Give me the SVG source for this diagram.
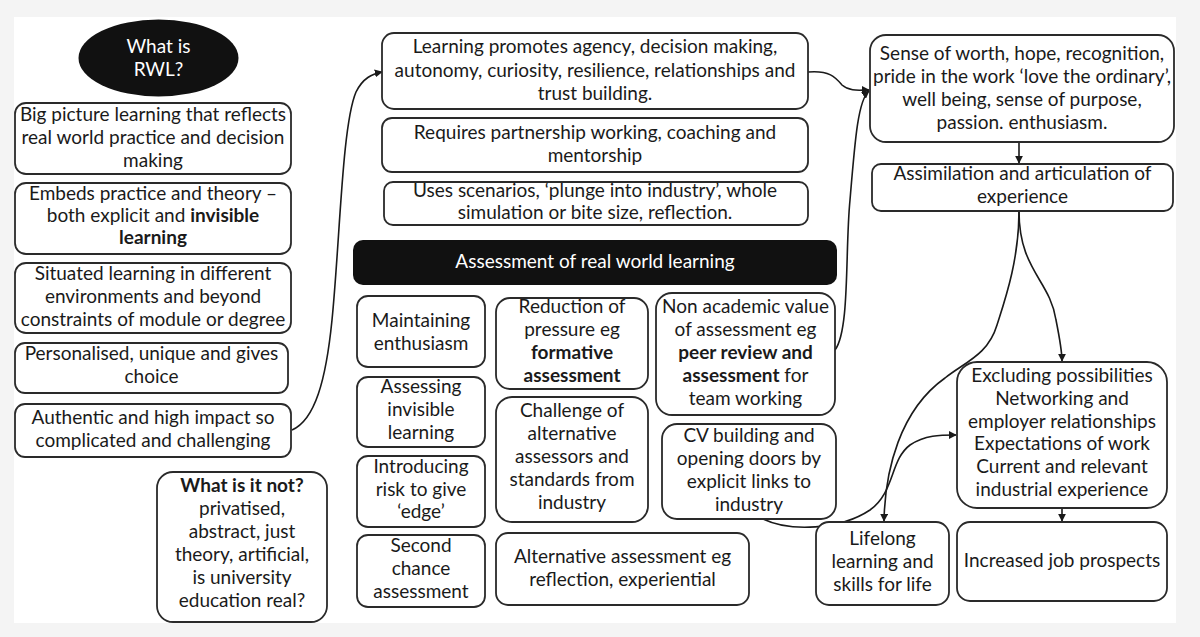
<svg xmlns="http://www.w3.org/2000/svg" width="1200" height="637" viewBox="0 0 1200 637">
<defs>
<style>
.bx{fill:#fff;stroke:#2a2a2a;stroke-width:1.8}
.t{font-family:Lato,"Open Sans","Liberation Sans",sans-serif;font-size:19px;fill:#1a1a1a;text-anchor:middle}
.w{fill:#fff}
.b{font-weight:bold}
.c{fill:none;stroke:#1a1a1a;stroke-width:1.6}
</style>
<marker id="ah" viewBox="0 0 10 10" refX="9" refY="5" markerWidth="8" markerHeight="8" markerUnits="userSpaceOnUse" orient="auto">
<path d="M0,0 L10,5 L0,10 z" fill="#1a1a1a"/>
</marker>
</defs>
<rect x="0" y="0" width="1200" height="637" fill="#f4f4f4"/>
<rect x="14" y="17" width="1162" height="606" fill="#fff"/>

<g id="connectors">
<path class="c" marker-end="url(#ah)" d="M292,430 C315,420 326,380 332,320 C340,240 342,125 356,92 C363,78 372,74 382,72"/>
<path class="c" marker-end="url(#ah)" d="M808,72 C830,70 836,78 842,85 C850,92 860,90 869,90"/>
<path class="c" marker-end="url(#ah)" d="M835,350 C850,330 845,250 850,200 C855,140 858,100 869,91"/>
<path class="c" marker-end="url(#ah)" d="M1019,142 L1019,163"/>
<path class="c" marker-end="url(#ah)" d="M1019,211 C1019,270 1050,280 1056,320 C1060,340 1062,350 1062,361"/>
<path class="c" marker-end="url(#ah)" d="M1019,211 C1019,260 1005,300 997,325 C988,355 965,362 945,378 C900,410 885,470 884,521"/>
<path class="c" marker-end="url(#ah)" d="M763,519 C790,532 840,530 870,510 C895,492 890,460 910,445 C925,435 940,435 956,435"/>
<path class="c" marker-end="url(#ah)" d="M1062,508 L1062,521"/>
</g>

<g id="n-rwl">
<ellipse cx="158.5" cy="58" rx="80" ry="38.5" fill="#111"/>
<text class="t w" x="158.5" y="53">What is</text>
<text class="t w" x="158.5" y="76">RWL?</text>
</g>
<g id="n-bigpicture">
<rect class="bx" x="15" y="103" width="276" height="71" rx="11"/>
<text class="t" x="153" y="121">Big picture learning that reflects</text>
<text class="t" x="153" y="144">real world practice and decision</text>
<text class="t" x="153" y="167">making</text>
</g>
<g id="n-embeds">
<rect class="bx" x="15" y="183" width="276" height="71" rx="11"/>
<text class="t" x="153" y="200">Embeds practice and theory –</text>
<text class="t" x="153" y="222">both explicit and <tspan class="b">invisible</tspan></text>
<text class="t b" x="153" y="244">learning</text>
</g>
<g id="n-situated">
<rect class="bx" x="15" y="263" width="276" height="70" rx="11"/>
<text class="t" x="153" y="280">Situated learning in different</text>
<text class="t" x="153" y="303">environments and beyond</text>
<text class="t" x="153" y="326">constraints of module or degree</text>
</g>
<g id="n-personalised">
<rect class="bx" x="15" y="343" width="273" height="50" rx="10"/>
<text class="t" x="151.5" y="360">Personalised, unique and gives</text>
<text class="t" x="151.5" y="383">choice</text>
</g>
<g id="n-authentic">
<rect class="bx" x="15" y="404" width="276" height="53" rx="10"/>
<text class="t" x="153" y="424">Authentic and high impact so</text>
<text class="t" x="153" y="447">complicated and challenging</text>
</g>
<g id="n-whatnot">
<rect class="bx" x="157" y="472" width="170" height="150" rx="16"/>
<text class="t b" x="242" y="492">What is it not?</text>
<text class="t" x="242" y="515">privatised,</text>
<text class="t" x="242" y="538">abstract, just</text>
<text class="t" x="242" y="561">theory, artificial,</text>
<text class="t" x="242" y="584">is university</text>
<text class="t" x="242" y="607">education real?</text>
</g>

<g id="n-promotes">
<rect class="bx" x="382" y="33" width="426" height="76" rx="12"/>
<text class="t" x="595" y="53">Learning promotes agency, decision making,</text>
<text class="t" x="595" y="77">autonomy, curiosity, resilience, relationships and</text>
<text class="t" x="595" y="100">trust building.</text>
</g>
<g id="n-requires">
<rect class="bx" x="382" y="118" width="426" height="54" rx="10"/>
<text class="t" x="595" y="139">Requires partnership working, coaching and</text>
<text class="t" x="595" y="162">mentorship</text>
</g>
<g id="n-uses">
<rect class="bx" x="384" y="182" width="424" height="43" rx="9"/>
<text class="t" x="595" y="197">Uses scenarios, ‘plunge into industry’, whole</text>
<text class="t" x="595" y="219">simulation or bite size, reflection.</text>
</g>

<g id="n-assessment">
<rect x="353" y="240" width="484" height="45" rx="10" fill="#111"/>
<text class="t w" x="595" y="268">Assessment of real world learning</text>
</g>
<g id="n-maintaining">
<rect class="bx" x="357" y="296" width="128" height="71" rx="11"/>
<text class="t" x="421" y="327">Maintaining</text>
<text class="t" x="421" y="350">enthusiasm</text>
</g>
<g id="n-assessing">
<rect class="bx" x="357" y="377" width="128" height="70" rx="11"/>
<text class="t" x="421" y="393">Assessing</text>
<text class="t" x="421" y="416">invisible</text>
<text class="t" x="421" y="439">learning</text>
</g>
<g id="n-introducing">
<rect class="bx" x="357" y="456" width="128" height="71" rx="11"/>
<text class="t" x="421" y="473">Introducing</text>
<text class="t" x="421" y="496">risk to give</text>
<text class="t" x="421" y="518">‘edge’</text>
</g>
<g id="n-second">
<rect class="bx" x="357" y="535" width="128" height="72" rx="11"/>
<text class="t" x="421" y="552">Second</text>
<text class="t" x="421" y="575">chance</text>
<text class="t" x="421" y="598">assessment</text>
</g>
<g id="n-reduction">
<rect class="bx" x="496" y="298" width="152" height="91" rx="14"/>
<text class="t" x="572" y="313">Reduction of</text>
<text class="t" x="572" y="336">pressure eg</text>
<text class="t b" x="572" y="359">formative</text>
<text class="t b" x="572" y="382">assessment</text>
</g>
<g id="n-challenge">
<rect class="bx" x="496" y="397" width="152" height="125" rx="16"/>
<text class="t" x="572" y="417">Challenge of</text>
<text class="t" x="572" y="440">alternative</text>
<text class="t" x="572" y="463">assessors and</text>
<text class="t" x="572" y="486">standards from</text>
<text class="t" x="572" y="509">industry</text>
</g>
<g id="n-alternative">
<rect class="bx" x="496" y="533" width="253" height="72" rx="12"/>
<text class="t" x="622.5" y="563">Alternative assessment eg</text>
<text class="t" x="622.5" y="586">reflection, experiential</text>
</g>
<g id="n-nonacademic">
<rect class="bx" x="656" y="293" width="179" height="122" rx="16"/>
<text class="t" x="745.5" y="313">Non academic value</text>
<text class="t" x="745.5" y="336">of assessment eg</text>
<text class="t b" x="745.5" y="359">peer review and</text>
<text class="t" x="745.5" y="382"><tspan class="b">assessment</tspan> for</text>
<text class="t" x="745.5" y="405">team working</text>
</g>
<g id="n-cv">
<rect class="bx" x="662" y="424" width="174" height="95" rx="15"/>
<text class="t" x="749" y="442">CV building and</text>
<text class="t" x="749" y="465">opening doors by</text>
<text class="t" x="749" y="488">explicit links to</text>
<text class="t" x="749" y="511">industry</text>
</g>

<g id="n-sense">
<rect class="bx" x="870" y="35" width="304" height="107" rx="16"/>
<text class="t" x="1022" y="60">Sense of worth, hope, recognition,</text>
<text class="t" x="1022" y="83">pride in the work ‘love the ordinary’,</text>
<text class="t" x="1022" y="106">well being, sense of purpose,</text>
<text class="t" x="1022" y="129">passion. enthusiasm.</text>
</g>
<g id="n-assimilation">
<rect class="bx" x="872" y="164" width="301" height="47" rx="9"/>
<text class="t" x="1022.5" y="180">Assimilation and articulation of</text>
<text class="t" x="1022.5" y="203">experience</text>
</g>
<g id="n-excluding">
<rect class="bx" x="957" y="362" width="210" height="146" rx="20"/>
<text class="t" x="1062" y="382">Excluding possibilities</text>
<text class="t" x="1062" y="405">Networking and</text>
<text class="t" x="1062" y="428">employer relationships</text>
<text class="t" x="1062" y="450">Expectations of work</text>
<text class="t" x="1062" y="473">Current and relevant</text>
<text class="t" x="1062" y="496">industrial experience</text>
</g>
<g id="n-lifelong">
<rect class="bx" x="816" y="522" width="133" height="83" rx="13"/>
<text class="t" x="882.5" y="545">Lifelong</text>
<text class="t" x="882.5" y="568">learning and</text>
<text class="t" x="882.5" y="591">skills for life</text>
</g>
<g id="n-jobs">
<rect class="bx" x="957" y="522" width="210" height="79" rx="13"/>
<text class="t" x="1062" y="567">Increased job prospects</text>
</g>
</svg>
